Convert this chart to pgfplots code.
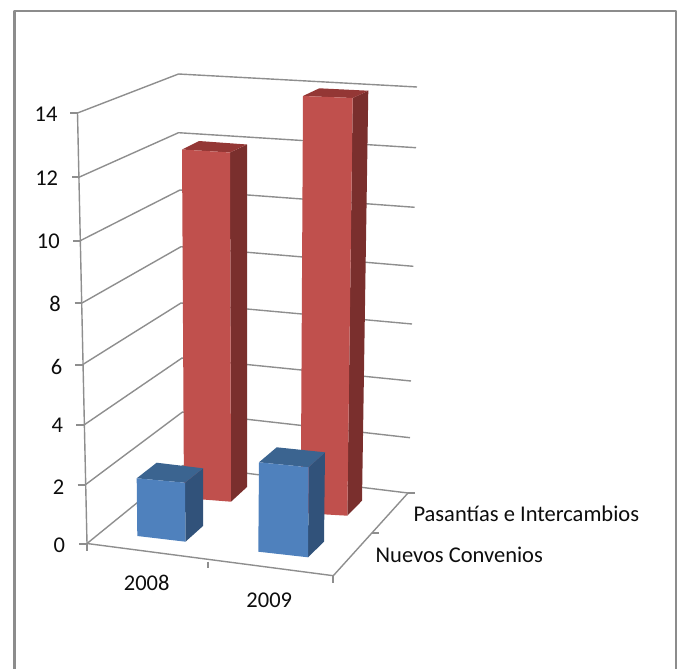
\documentclass[border=0pt]{standalone}
\usepackage{fontspec}
\setmainfont{Carlito}
\usepackage{pgfplots}
\pgfplotsset{compat=1.18}
\definecolor{gridc}{HTML}{8E8E8E}
\definecolor{framec}{HTML}{8C8C8C}
\definecolor{rf}{HTML}{C0504D}
\definecolor{rs}{HTML}{7A2F2D}
\definecolor{rt}{HTML}{943735}
\definecolor{bf}{HTML}{4F81BD}
\definecolor{bs}{HTML}{31527A}
\definecolor{bt}{HTML}{3B6490}
\tikzset{
  gl/.style={draw=gridc, line width=1.4pt},
  tk/.style={draw=gridc, line width=2pt},
  lb/.style={font=\fontsize{22.5}{26}\selectfont, text=black!95, inner sep=0pt, anchor=center},
}
\begin{document}
\begin{tikzpicture}
\useasboundingbox (0,0) rectangle (678pt,669pt);
\begin{axis}[
  at={(0,0)}, anchor=south west,
  scale only axis, width=678pt, height=669pt,
  xmin=0, xmax=678, ymin=0, ymax=669, y dir=reverse,
  axis lines=none, clip=true,
  every axis plot/.append style={line join=round},
]
% frame
\addplot[draw=framec, line width=2.8pt, no markers] coordinates {(14.7,669) (14.7,11) (676,11) (676,669)};
% wall grid lines, value 14 down to 0
\addplot[gl, no markers] coordinates {(77.5,113) (178.5,74) (417,87)};
\addplot[gl, no markers] coordinates {(79.5,177) (178.5,132.7) (416,147.7)};
\addplot[gl, no markers] coordinates {(80.7,240.5) (180,190) (414.7,207.3)};
\addplot[gl, no markers] coordinates {(82,303) (181,246.7) (413.3,266.3)};
\addplot[gl, no markers] coordinates {(82.5,364.7) (181,303) (412,324)};
\addplot[gl, no markers] coordinates {(83.5,425.3) (182,358) (411,381)};
\addplot[gl, no markers] coordinates {(85,485) (182.5,412) (410,437.7)};
\addplot[gl, no markers] coordinates {(87,543.5) (183,465.5) (408,493)};
% tick marks on the value axis
\addplot[tk, no markers] coordinates {(70,113) (77.5,113)};
\addplot[tk, no markers] coordinates {(72,177) (79.5,177)};
\addplot[tk, no markers] coordinates {(73,240.5) (80.7,240.5)};
\addplot[tk, no markers] coordinates {(74.5,303) (82,303)};
\addplot[tk, no markers] coordinates {(75,364.7) (82.5,364.7)};
\addplot[tk, no markers] coordinates {(76,425.3) (83.5,425.3)};
\addplot[tk, no markers] coordinates {(77.5,485) (85,485)};
\addplot[tk, no markers] coordinates {(79,543.5) (87,543.5)};
% vertical axis and floor edges
\addplot[gl, no markers] coordinates {(77.5,113) (87,543.5)};
\addplot[gl, no markers] coordinates {(87,543.5) (333.3,575.7) (408,493)};
% tick marks on the floor
\addplot[tk, no markers] coordinates {(87,543.5) (87,551)};
\addplot[tk, no markers] coordinates {(207.5,561.5) (207.5,567.5)};
\addplot[tk, no markers] coordinates {(333.3,575.7) (333.3,583)};
\addplot[tk, no markers] coordinates {(372,532.7) (379,532.7)};
\addplot[tk, no markers] coordinates {(408,493) (415,493)};
% Pasantias e Intercambios, 2008
\addplot[fill=rs, draw=none, no markers] coordinates {(230,152.5) (247,144.5) (247,487) (231,501.7)} --cycle;
\addplot[fill=rt, draw=none, no markers] coordinates {(182,149.5) (199,141) (247,144.5) (230,152.5)} --cycle;
\addplot[fill=rf, draw=none, no markers] coordinates {(182,149.5) (230,152.5) (231,501.7) (184,498)} --cycle;
% Pasantias e Intercambios, 2009
\addplot[fill=rs, draw=none, no markers] coordinates {(352.7,98) (368.3,90.7) (362,500.7) (347.3,515.7)} --cycle;
\addplot[fill=rt, draw=none, no markers] coordinates {(303,96) (319.3,88.3) (368.3,90.7) (352.7,98)} --cycle;
\addplot[fill=rf, draw=none, no markers] coordinates {(303,96) (352.7,98) (347.3,515.7) (300.7,513)} --cycle;
% Nuevos Convenios, 2008
\addplot[fill=bs, draw=none, no markers] coordinates {(185,482.7) (203,468.3) (203,526) (185.5,541.7)} --cycle;
\addplot[fill=bt, draw=none, no markers] coordinates {(136.7,478.3) (156.7,462.7) (203,468.3) (185,482.7)} --cycle;
\addplot[fill=bf, draw=none, no markers] coordinates {(136.7,478.3) (185,482.7) (185.5,541.7) (137.3,536)} --cycle;
% Nuevos Convenios, 2009
\addplot[fill=bs, draw=none, no markers] coordinates {(308.7,467.3) (325,452.3) (324,541.7) (308,557.3)} --cycle;
\addplot[fill=bt, draw=none, no markers] coordinates {(259,462.3) (276.7,447.3) (325,452.3) (308.7,467.3)} --cycle;
\addplot[fill=bf, draw=none, no markers] coordinates {(259,462.3) (308.7,467.3) (308,557.3) (258.3,551.7)} --cycle;
% labels
\node[lb] at (axis cs:46,114.3) {14};
\node[lb] at (axis cs:46.7,178.3) {12};
\node[lb] at (axis cs:48.3,241.7) {10};
\node[lb] at (axis cs:55,304) {8};
\node[lb] at (axis cs:56.7,366.7) {6};
\node[lb] at (axis cs:57.3,425.7) {4};
\node[lb] at (axis cs:58.7,486.7) {2};
\node[lb] at (axis cs:59.3,545) {0};
\node[lb] at (axis cs:146.7,583.3) {2008};
\node[lb] at (axis cs:269.3,600.7) {2009};
\node[lb] at (axis cs:526.3,513.3) {Pasantías e Intercambios};
\node[lb] at (axis cs:459.3,555) {Nuevos Convenios};
\end{axis}
\end{tikzpicture}
\end{document}
